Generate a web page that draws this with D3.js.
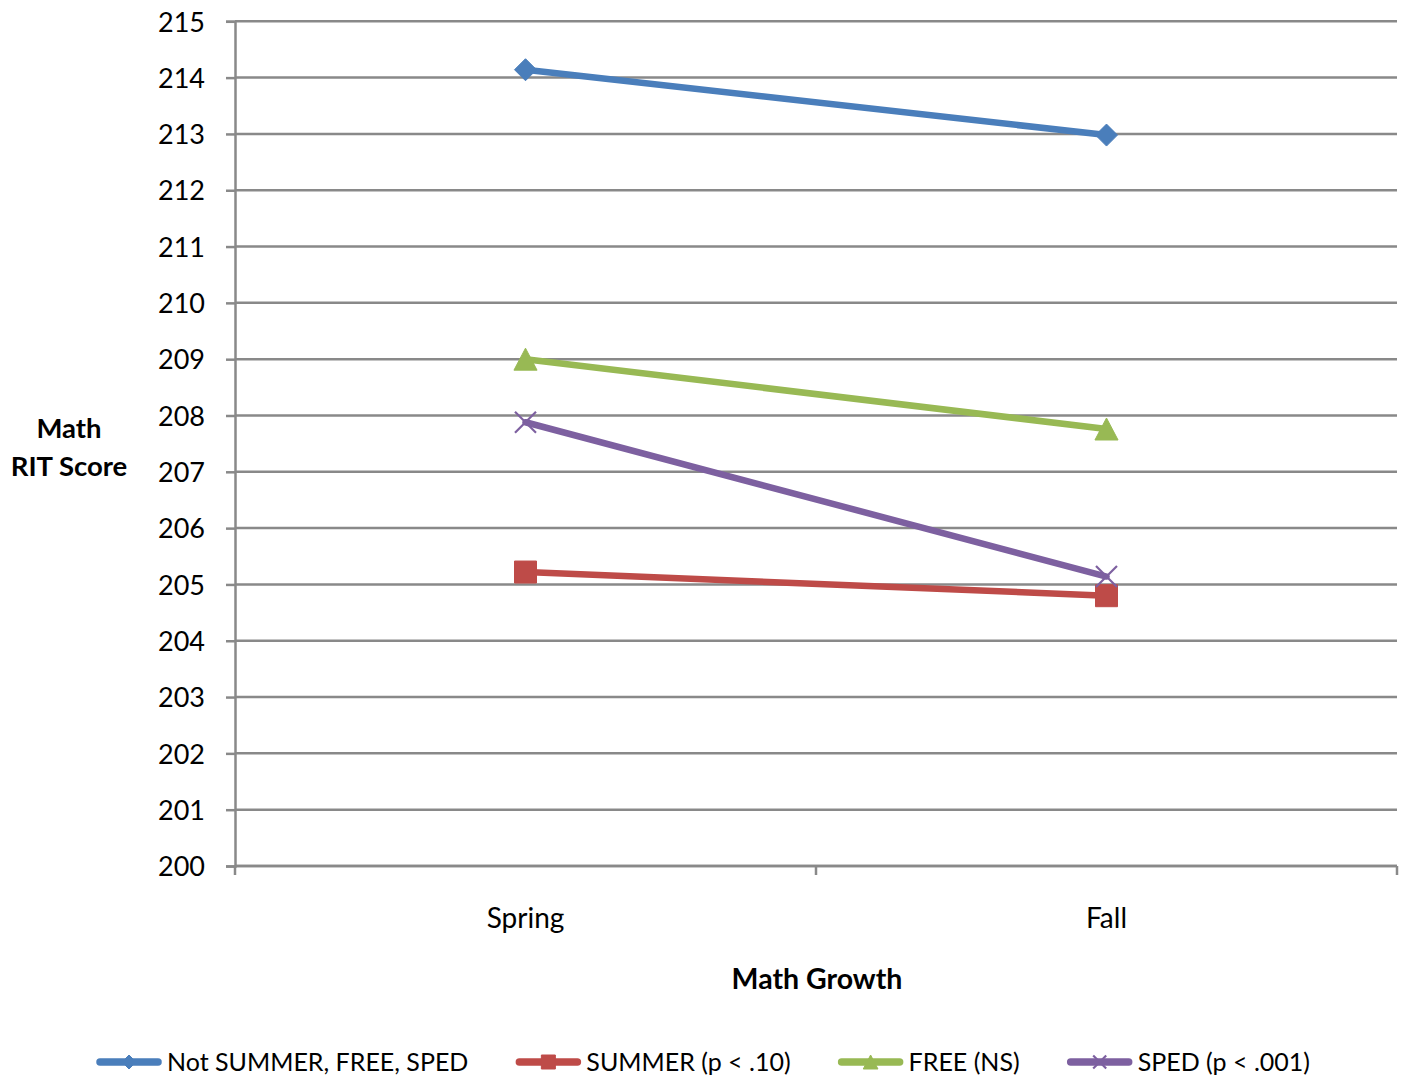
<!DOCTYPE html>
<html>
<head>
<meta charset="utf-8">
<script src="https://cdn.jsdelivr.net/npm/d3@7"></script>
<style>
  html, body { margin: 0; padding: 0; background: #fff; }
  svg { display: block; font-family: Lato, "Open Sans", sans-serif; }
</style>
</head>
<body>
<svg id="chart" width="1409" height="1083"></svg>
<script>
// Math RIT score, spring vs. fall, by student group
const seasons = ["Spring", "Fall"];
const seriesNames = ["Not SUMMER, FREE, SPED", "SUMMER (p < .10)", "FREE (NS)", "SPED (p < .001)"];
const notSummerFreeSped = [214.14, 212.98];
const summer = [205.22, 204.80];
const free = [209.00, 207.76];
const sped = [207.88, 205.14];
const yTicks = [200, 201, 202, 203, 204, 205, 206, 207, 208, 209, 210, 211, 212, 213, 214, 215];
const yTitle = ["Math", "RIT Score"];
const xTitle = "Math Growth";

const colors = ["#4A7EBB", "#BE4B48", "#98B954", "#7D60A0"];
const markers = ["diamond", "square", "triangle", "cross"];
const seriesValues = [notSummerFreeSped, summer, free, sped];

const series = seriesNames.map((name, i) => ({
  name, color: colors[i], marker: markers[i],
  values: seriesValues[i].map((v, j) => ({ season: seasons[j], value: v }))
}));

const svg = d3.select("#chart");
const plotLeft = 235, plotRight = 1397, plotTop = 21.3, plotBottom = 866;
const fontSize = 26;
const gridColor = "#898989";

const x = d3.scaleBand().domain(seasons).range([plotLeft, plotRight]).padding(0);
const y = d3.scaleLinear().domain([200, 215]).range([plotBottom, plotTop]);

// horizontal gridlines
svg.append("g")
  .selectAll("line")
  .data(yTicks)
  .join("line")
  .attr("x1", plotLeft).attr("x2", plotRight)
  .attr("y1", d => y(d)).attr("y2", d => y(d))
  .attr("stroke", gridColor).attr("stroke-width", 2.5);

// y axis
const yAxis = svg.append("g")
  .attr("transform", `translate(${plotLeft},0)`)
  .call(d3.axisLeft(y).tickValues(yTicks).tickSize(9).tickPadding(21).tickFormat(d3.format("d")));
yAxis.select(".domain").attr("stroke", gridColor).attr("stroke-width", 2.5);
yAxis.selectAll(".tick line").attr("stroke", gridColor).attr("stroke-width", 2.5);
yAxis.selectAll(".tick text")
  .attr("font-size", 27).attr("font-family", "Lato, sans-serif")
  .attr("fill", "#000").attr("dy", "0.36em");

// x axis: category labels, ticks at band edges
const xAxis = svg.append("g")
  .attr("transform", `translate(0,${plotBottom})`)
  .call(d3.axisBottom(x).tickSize(0).tickPadding(0));
xAxis.select(".domain").remove();
xAxis.selectAll(".tick text")
  .attr("font-size", 28).attr("font-family", "Lato, sans-serif")
  .attr("fill", "#000").attr("y", 62).attr("dy", 0);

svg.append("line")
  .attr("x1", plotLeft).attr("x2", plotRight)
  .attr("y1", plotBottom).attr("y2", plotBottom)
  .attr("stroke", gridColor).attr("stroke-width", 2.5);
const edges = seasons.map(s => x(s)).concat([x(seasons[seasons.length - 1]) + x.bandwidth()]);
svg.append("g")
  .selectAll("line")
  .data(edges)
  .join("line")
  .attr("x1", d => d).attr("x2", d => d)
  .attr("y1", plotBottom).attr("y2", plotBottom + 9)
  .attr("stroke", gridColor).attr("stroke-width", 2.5);

// axis titles
svg.append("text")
  .attr("x", (plotLeft + plotRight) / 2 + 1).attr("y", 989)
  .attr("text-anchor", "middle").attr("font-weight", "bold")
  .attr("font-size", 28.5).text(xTitle);
svg.append("g")
  .selectAll("text")
  .data(yTitle)
  .join("text")
  .attr("x", 69).attr("y", (d, i) => 438 + i * 38)
  .attr("text-anchor", "middle").attr("font-weight", "bold")
  .attr("font-size", 27.5).text(d => d);

// marker shapes, s = overall size in px
function markerPath(type, s) {
  const h = s / 2;
  if (type === "diamond") return `M0,${-h}L${h},0L0,${h}L${-h},0Z`;
  if (type === "square") return `M${-h},${-h}H${h}V${h}H${-h}Z`;
  if (type === "triangle") return `M0,${-h}L${h * 1.05},${h}L${-h * 1.05},${h}Z`;
  return `M${-h},${-h}L${h},${h}M${-h},${h}L${h},${-h}`;
}
function drawMarker(g, type, color, s) {
  const p = g.append("path").attr("d", markerPath(type, s));
  if (type === "cross") p.attr("fill", "none").attr("stroke", color).attr("stroke-width", 2.2);
  else p.attr("fill", color).attr("stroke", color).attr("stroke-width", 1).attr("stroke-linejoin", "round");
}

const xc = d => x(d.season) + x.bandwidth() / 2;
const line = d3.line().x(xc).y(d => y(d.value));

const plot = svg.append("g");
series.forEach(s => {
  const g = plot.append("g");
  g.append("path")
    .datum(s.values)
    .attr("d", line)
    .attr("fill", "none").attr("stroke", s.color)
    .attr("stroke-width", 6.5).attr("stroke-linecap", "round");
  const msize = { diamond: 22, square: 22, triangle: 22, cross: 21 }[s.marker];
  g.selectAll("g.m")
    .data(s.values)
    .join("g").attr("class", "m")
    .attr("transform", d => `translate(${xc(d)},${y(d.value)})`)
    .each(function () { drawMarker(d3.select(this), s.marker, s.color, msize); });
});

// legend
const legendY = 1062;
const legend = svg.append("g");
const lineLen = 58, gapText = 9, gapItem = 51;
const items = series.map(s => {
  const g = legend.append("g");
  g.append("line")
    .attr("x1", 0).attr("x2", lineLen).attr("y1", 0).attr("y2", 0)
    .attr("stroke", s.color).attr("stroke-width", 7.5).attr("stroke-linecap", "round");
  const ms = s.marker === "cross" ? 13 : 14;
  drawMarker(g.append("g").attr("transform", `translate(${lineLen / 2},0)`), s.marker, s.color, ms);
  const t = g.append("text")
    .attr("x", lineLen + gapText).attr("y", 0).attr("dy", "0.36em")
    .attr("font-size", 25).text(s.name);
  return { g, w: lineLen + gapText + t.node().getComputedTextLength() };
});
const total = d3.sum(items, d => d.w) + gapItem * (items.length - 1);
let cx = 701 - total / 2 + 4;
items.forEach(it => {
  it.g.attr("transform", `translate(${cx},${legendY})`);
  cx += it.w + gapItem;
});
</script>
</body>
</html>
